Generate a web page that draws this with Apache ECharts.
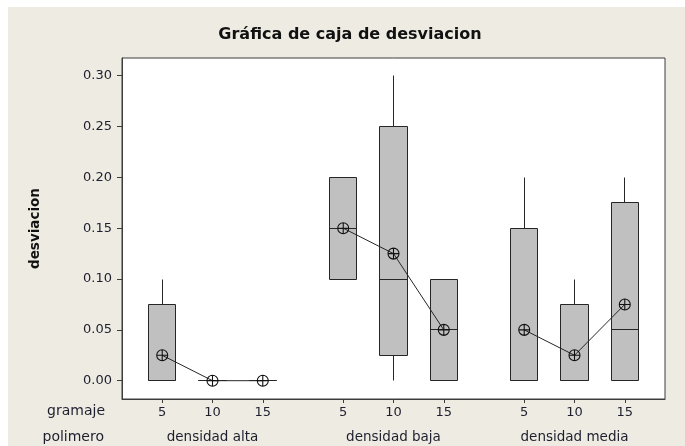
<!DOCTYPE html>
<html>
<head>
<meta charset="utf-8">
<script src="https://cdn.jsdelivr.net/npm/echarts@6/dist/echarts.min.js"></script>
<style>
  html, body { margin: 0; padding: 0; background: #ffffff; }
  #frame { position: absolute; left: 8px; top: 7px; width: 677px; height: 439px; background: #EEEBE2; }
  #chart { position: absolute; left: 0; top: 0; width: 685px; height: 446px; }
</style>
</head>
<body>
<div id="frame"></div>
<div id="chart"></div>
<script>
// Grouping levels
const polimero = ['densidad alta', 'densidad baja', 'densidad media'];
const gramaje = ['5', '10', '15'];

// Slot of each box on the horizontal value axis (wider gap between polymer groups)
const posiciones = [1, 2, 3, 4.6, 5.6, 6.6, 8.2, 9.2, 10.2];
const centrosGrupo = [2, 5.6, 9.2];

// Box statistics for desviacion, one entry per polimero x gramaje cell
const minimo  = [0,     0, 0,   0.10, 0,     0,    0,    0,     0    ];
const q1      = [0,     0, 0,   0.10, 0.025, 0,    0,    0,     0    ];
const mediana = [0,     0, 0,   0.15, 0.10,  0.05, 0,    0,     0.05 ];
const q3      = [0.075, 0, 0,   0.20, 0.25,  0.10, 0.15, 0.075, 0.175];
const maximo  = [0.10,  0, 0,   0.20, 0.30,  0.10, 0.20, 0.10,  0.20 ];
const media   = [0.025, 0, 0,   0.15, 0.125, 0.05, 0.05, 0.025, 0.075];

// Vertical axis ticks
const yTicks = [0, 0.05, 0.10, 0.15, 0.20, 0.25, 0.30];

const FONT = '"DejaVu Sans", Verdana, sans-serif';
const INK = '#262626';
const BOX_W = 0.54;   // box width in axis units

const crisp = v => Math.round(v - 0.5) + 0.5;

const boxData = posiciones.map((x, i) => [x, minimo[i], q1[i], mediana[i], q3[i], maximo[i]]);

function renderBox(params, api) {
  const x = api.value(0);
  const pMin = api.coord([x, api.value(1)]);
  const pQ1  = api.coord([x, api.value(2)]);
  const pMed = api.coord([x, api.value(3)]);
  const pQ3  = api.coord([x, api.value(4)]);
  const pMax = api.coord([x, api.value(5)]);
  const w = api.size([BOX_W, 0])[0];
  const cx = crisp(pQ1[0]);
  const left = crisp(pQ1[0] - w / 2);
  const right = crisp(pQ1[0] + w / 2);
  const yQ1 = crisp(pQ1[1]), yQ3 = crisp(pQ3[1]), yMed = crisp(pMed[1]);
  const line = { stroke: INK, lineWidth: 1 };
  const kids = [];
  if (pMin[1] - pQ1[1] > 0.5) {
    kids.push({ type: 'line', shape: { x1: cx, y1: yQ1, x2: cx, y2: crisp(pMin[1]) }, style: line });
  }
  if (pQ3[1] - pMax[1] > 0.5) {
    kids.push({ type: 'line', shape: { x1: cx, y1: yQ3, x2: cx, y2: crisp(pMax[1]) }, style: line });
  }
  kids.push({
    type: 'rect',
    shape: { x: left, y: yQ3, width: right - left, height: yQ1 - yQ3 },
    style: { fill: '#C0C0C0', stroke: INK, lineWidth: 1 }
  });
  kids.push({ type: 'line', shape: { x1: left, y1: yMed, x2: right, y2: yMed }, style: line });
  return { type: 'group', children: kids };
}

// Mean markers joined within each polymer group
const meanSymbol = 'path://M10,0A10,10 0 1,1 10,20A10,10 0 1,1 10,0ZM0,10L20,10M10,0L10,20';
const meanSeries = polimero.map((name, g) => ({
  type: 'line',
  name: name,
  data: [0, 1, 2].map(k => [posiciones[g * 3 + k], media[g * 3 + k]]),
  symbol: meanSymbol,
  symbolSize: 11,
  symbolKeepAspect: true,
  showAllSymbol: true,
  lineStyle: { color: INK, width: 1 },
  itemStyle: { color: 'rgba(0,0,0,0)', borderColor: '#111', borderWidth: 1.1 },
  emphasis: { disabled: true },
  silent: true,
  animation: false,
  z: 5
}));

const chart = echarts.init(document.getElementById('chart'), null, { renderer: 'canvas' });

chart.setOption({
  animation: false,
  backgroundColor: 'transparent',
  grid: {
    left: 122, right: 20, top: 58, bottom: 47,
    show: true, backgroundColor: '#ffffff', borderColor: '#3c3c3c', borderWidth: 1
  },
  xAxis: [
    {
      type: 'value', min: 0.2, max: 11,
      splitLine: { show: false },
      axisLine: { show: true, onZero: false, lineStyle: { color: '#3c3c3c', width: 1 } },
      axisTick: { show: true, inside: false, length: 4, customValues: posiciones, lineStyle: { color: '#3c3c3c' } },
      axisLabel: {
        customValues: posiciones, margin: 7,
        formatter: v => gramaje[posiciones.findIndex(p => Math.abs(p - v) < 1e-6) % 3],
        color: '#1e1e2e', fontFamily: FONT, fontSize: 13
      }
    },
    {
      type: 'value', min: 0.2, max: 11, position: 'bottom',
      splitLine: { show: false },
      axisLine: { show: false },
      axisTick: { show: false },
      axisLabel: {
        customValues: centrosGrupo, margin: 31,
        formatter: v => polimero[centrosGrupo.findIndex(p => Math.abs(p - v) < 1e-6)],
        color: '#1e1e2e', fontFamily: FONT, fontSize: 13.5
      }
    }
  ],
  yAxis: {
    type: 'value', min: -0.018, max: 0.3174,
    name: 'desviacion', nameLocation: 'middle', nameGap: 80,
    nameTextStyle: { fontFamily: FONT, fontWeight: 'bold', fontSize: 13.5, color: '#111' },
    splitLine: { show: false },
    axisLine: { show: true, onZero: false, lineStyle: { color: '#3c3c3c', width: 1 } },
    axisTick: { show: true, inside: false, length: 5, customValues: yTicks, lineStyle: { color: '#3c3c3c' } },
    axisLabel: {
      customValues: yTicks, margin: 10,
      formatter: v => v.toFixed(2),
      color: '#1e1e2e', fontFamily: FONT, fontSize: 13
    }
  },
  graphic: [
    {
      type: 'text', x: 350, y: 35,
      style: { text: 'Gráfica de caja de desviacion', textAlign: 'center', textVerticalAlign: 'middle',
               font: 'bold 16px ' + FONT, fill: '#111' }
    },
    {
      type: 'text', x: 105, y: 411,
      style: { text: 'gramaje', textAlign: 'right', textVerticalAlign: 'middle', font: '14px ' + FONT, fill: '#1e1e2e' }
    },
    {
      type: 'text', x: 104, y: 437,
      style: { text: 'polimero', textAlign: 'right', textVerticalAlign: 'middle', font: '14px ' + FONT, fill: '#1e1e2e' }
    }
  ],
  series: [
    {
      type: 'custom',
      name: 'cajas',
      xAxisIndex: 0,
      data: boxData,
      renderItem: renderBox,
      encode: { x: 0, y: [1, 2, 3, 4, 5] },
      silent: true,
      z: 2
    }
  ].concat(meanSeries)
});
</script>
</body>
</html>
